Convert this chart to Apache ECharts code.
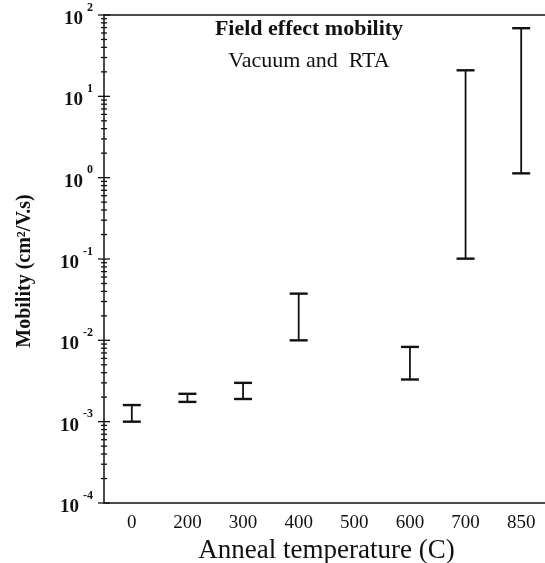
<!DOCTYPE html>
<html>
<head>
<meta charset="utf-8">
<script src="https://cdn.jsdelivr.net/npm/echarts@6/dist/echarts.min.js"></script>
<style>
  html, body { margin: 0; padding: 0; background: #fff; }
  #chart { width: 545px; height: 563px; }
</style>
</head>
<body>
<div id="chart"></div>
<script>
// anneal temperatures (C)
const categories = ['0', '200', '300', '400', '500', '600', '700', '850'];
// mobility range per temperature (cm2/V.s), null = no measurement
const lowValues = [0.001, 0.00175, 0.0019, 0.010, null, 0.0033, 0.101, 1.13];
const highValues = [0.0016, 0.0022, 0.0030, 0.0375, null, 0.0083, 20.9, 68.8];
// decade labels on the log axis
const yDecades = [-4, -3, -2, -1, 0, 1, 2];

const serif = '"Liberation Serif", "DejaVu Serif", serif';
const ink = '#111';

const chart = echarts.init(document.getElementById('chart'));

// error bar data
const barData = [];
categories.forEach((c, i) => {
  if (lowValues[i] != null) barData.push([i, lowValues[i], highValues[i]]);
});

// axis tick positions (majors at decades, minors at 2..9)
const tickData = [];
yDecades.forEach((d) => {
  tickData.push([Math.pow(10, d), 1]);
  if (d < yDecades[yDecades.length - 1]) {
    for (let k = 2; k <= 9; k++) tickData.push([k * Math.pow(10, d), 0]);
  }
});

const option = {
  animation: false,
  title: {
    text: 'Field effect mobility',
    subtext: 'Vacuum and  RTA',
    left: 304,
    top: 13,
    textAlign: 'center',
    itemGap: 10,
    textStyle: { fontFamily: serif, fontSize: 22, fontWeight: 'bold', color: ink },
    subtextStyle: { fontFamily: serif, fontSize: 22, color: ink }
  },
  grid: { left: 104, top: 15, width: 445, height: 488, outerBoundsMode: 'none', containLabel: false },
  xAxis: [
    {
      type: 'category',
      data: categories,
      name: 'Anneal temperature (C)',
      nameLocation: 'middle',
      nameGap: 34,
      nameTextStyle: { fontFamily: serif, fontSize: 27, color: ink },
      axisLine: { lineStyle: { color: ink, width: 1.5 } },
      axisTick: { alignWithLabel: false, length: 6, lineStyle: { color: ink, width: 1.5 } },
      axisLabel: { fontFamily: serif, fontSize: 19, color: ink, margin: 11 },
      splitLine: { show: false }
    },
    {
      type: 'category',
      position: 'top',
      data: categories,
      axisLine: { lineStyle: { color: ink, width: 1.5 } },
      axisTick: { show: false },
      axisLabel: { show: false }
    }
  ],
  yAxis: {
    type: 'log',
    logBase: 10,
    min: 1e-4,
    max: 100,
    name: 'Mobility (cm\u00b2/V.s)',
    nameLocation: 'middle',
    nameGap: 69,
    nameTextStyle: {
      fontFamily: serif, fontSize: 20, fontWeight: 'bold', color: ink,
      padding: [0, 24, 0, 0]
    },
    axisLine: { show: true, lineStyle: { color: ink, width: 1.5 } },
    axisTick: { show: false },
    splitLine: { show: false },
    axisLabel: {
      margin: 11,
      formatter: (v) => '{b|10}{e|' + Math.round(Math.log10(v)) + '}',
      rich: {
        b: { fontFamily: serif, fontSize: 19, fontWeight: 'bold', color: ink, padding: [8, 0, 0, 0] },
        e: { fontFamily: serif, fontSize: 12, fontWeight: 'bold', color: ink, verticalAlign: 'top', padding: [0, 0, 0, 4] }
      }
    }
  },
  series: [
    {
      // crossing ticks on the log axis
      type: 'custom',
      silent: true,
      data: tickData,
      encode: { y: 0 },
      renderItem: (params, api) => {
        const x = params.coordSys.x;
        const y = api.coord([0, api.value(0)])[1];
        const half = api.value(1) ? 6 : 3;
        return {
          type: 'line',
          shape: { x1: x - half, y1: y, x2: x + half, y2: y },
          style: { stroke: ink, lineWidth: 1.3 }
        };
      }
    },
    {
      type: 'custom',
      name: 'Mobility',
      data: barData,
      encode: { x: 0, y: [1, 2] },
      renderItem: (params, api) => {
        const lo = api.coord([api.value(0), api.value(1)]);
        const hi = api.coord([api.value(0), api.value(2)]);
        const cap = 9;
        return {
          type: 'group',
          children: [
            { type: 'line', shape: { x1: lo[0], y1: lo[1], x2: hi[0], y2: hi[1] }, style: { stroke: ink, lineWidth: 1.8 } },
            { type: 'line', shape: { x1: lo[0] - cap, y1: lo[1], x2: lo[0] + cap, y2: lo[1] }, style: { stroke: ink, lineWidth: 2.4 } },
            { type: 'line', shape: { x1: hi[0] - cap, y1: hi[1], x2: hi[0] + cap, y2: hi[1] }, style: { stroke: ink, lineWidth: 2.4 } }
          ]
        };
      }
    }
  ]
};

chart.setOption(option);
window.addEventListener('resize', () => chart.resize());
</script>
</body>
</html>
